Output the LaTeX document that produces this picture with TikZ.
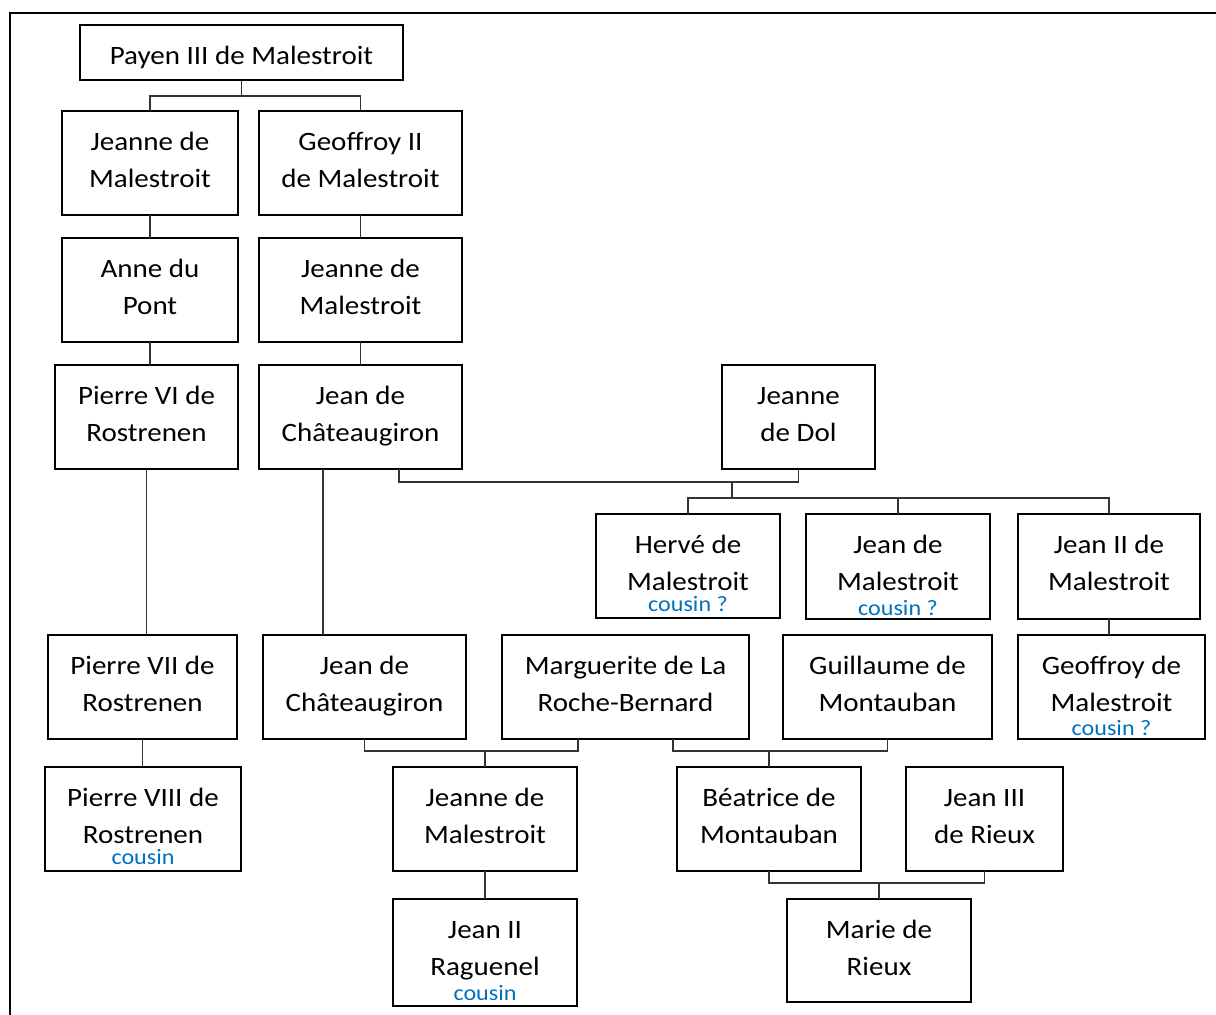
\documentclass[tikz,border=0pt]{standalone}
\usepackage{fontspec}
\setmainfont{Carlito}[FakeStretch=1.095]
\usepackage{xcolor}
\definecolor{cblue}{HTML}{0070C0}
\newcommand{\bt}[4]{\parbox[c][#2][t]{#1}{\centering\rule{0pt}{39pt}#3\par\vfill#4}}
\newcommand{\cz}[2]{{\fontsize{22}{1}\selectfont\color{cblue}\smash{#2}\par}\vspace*{#1}}
\begin{document}
\begin{tikzpicture}[x=1pt,y=-1pt,
  pbox/.style={draw=black,line width=2.2pt,inner sep=0pt,outer sep=0pt,
    font=\fontsize{26.5}{37}\selectfont},
  conn/.style={draw=black!80,line width=1.3pt}]
\useasboundingbox (0,0) rectangle (1216,1015);
\fill[white] (0,0) rectangle (1216,1015);
\draw[line width=2pt] (10,1030) -- (10,13) -- (1230,13);
% boxes
\node[pbox] (payen) at (241.5,52.5) {\bt{323pt}{55pt}{Payen III de Malestroit}{}};
\node[pbox] (jm1) at (150,163) {\bt{176pt}{104pt}{Jeanne de\\Malestroit}{}};
\node[pbox] (geo2) at (360.5,163) {\bt{203pt}{104pt}{Geoffroy II\\de Malestroit}{}};
\node[pbox] (anne) at (150,290) {\bt{176pt}{104pt}{Anne du\\Pont}{}};
\node[pbox] (jm2) at (360.5,290) {\bt{203pt}{104pt}{Jeanne de\\Malestroit}{}};
\node[pbox] (p6) at (146.5,417) {\bt{183pt}{104pt}{Pierre VI de\\Rostrenen}{}};
\node[pbox] (jc1) at (360.5,417) {\bt{203pt}{104pt}{Jean de\\Châteaugiron}{}};
\node[pbox] (dol) at (798.5,417) {\bt{153pt}{104pt}{Jeanne\\de Dol}{}};
\node[pbox] (herve) at (688,566) {\bt{184pt}{104pt}{Hervé de\\Malestroit}{\cz{7pt}{cousin ?}}};
\node[pbox] (jeanm) at (898,566.5) {\bt{184pt}{105pt}{Jean de\\Malestroit}{\cz{4pt}{cousin ?}}};
\node[pbox] (jean2m) at (1109,566.5) {\bt{182pt}{105pt}{Jean II de\\Malestroit}{}};
\node[pbox] (p7) at (142.5,687) {\bt{189pt}{104pt}{Pierre VII de\\Rostrenen}{}};
\node[pbox] (jc2) at (364.5,687) {\bt{203pt}{104pt}{Jean de\\Châteaugiron}{}};
\node[pbox] (marg) at (625.5,687) {\bt{247pt}{104pt}{Marguerite de La\\Roche-Bernard}{}};
\node[pbox] (guil) at (887.5,687) {\bt{209pt}{104pt}{Guillaume de\\Montauban}{}};
\node[pbox] (geoff) at (1111.5,687) {\bt{187pt}{104pt}{Geoffroy de\\Malestroit}{\cz{4pt}{cousin ?}}};
\node[pbox] (p8) at (143,819) {\bt{196pt}{104pt}{Pierre VIII de\\Rostrenen}{\cz{6.5pt}{cousin}}};
\node[pbox] (jm3) at (485,819) {\bt{184pt}{104pt}{Jeanne de\\Malestroit}{}};
\node[pbox] (bea) at (769,819) {\bt{184pt}{104pt}{Béatrice de\\Montauban}{}};
\node[pbox] (j3r) at (984.5,819) {\bt{157pt}{104pt}{Jean III\\de Rieux}{}};
\node[pbox] (ragu) at (485,952.5) {\bt{184pt}{107pt}{Jean II\\Raguenel}{\cz{5.5pt}{cousin}}};
\node[pbox] (marie) at (879,950.5) {\bt{184pt}{103pt}{Marie de\\Rieux}{}};
% connectors
\coordinate (k1) at (241.5,96);
\draw[conn] (payen.south) -- (k1);
\draw[conn] (jm1.north) |- (k1) -| (geo2.north);
\draw[conn] (jm1.south) -- (anne.north);
\draw[conn] (geo2.south) -- (jm2.north);
\draw[conn] (anne.south) -- (anne.south |- p6.north);
\draw[conn] (jm2.south) -- (jc1.north);
\draw[conn] (p6.south) -- (p6.south |- p7.north);
\coordinate (jc1a) at ([xshift=-37.5pt]jc1.south);
\draw[conn] (jc1a) -- (jc1a |- jc2.north);
\coordinate (jc1b) at ([xshift=38.5pt]jc1.south);
\coordinate (k3) at (732,482);
\draw[conn] (jc1b) |- (k3) -| (dol.south);
\coordinate (k4) at (732,498);
\draw[conn] (k3) -- (k4);
\draw[conn] (herve.north) |- (k4) -| (jean2m.north);
\draw[conn] (jeanm.north) -- (jeanm.north |- k4);
\draw[conn] (jean2m.south) -- (jean2m.south |- geoff.north);
\draw[conn] (p7.south) -- (p7.south |- p8.north);
\coordinate (marga) at ([xshift=-47.5pt]marg.south);
\coordinate (k5) at (485,751);
\draw[conn] (jc2.south) |- (k5) -| (marga);
\draw[conn] (k5) -- (jm3.north);
\coordinate (margb) at ([xshift=47.5pt]marg.south);
\coordinate (k6) at (769,751);
\draw[conn] (margb) |- (k6) -| (guil.south);
\draw[conn] (k6) -- (bea.north);
\draw[conn] (jm3.south) -- (ragu.north);
\coordinate (k7) at (879,883);
\draw[conn] (bea.south) |- (k7) -| (j3r.south);
\draw[conn] (k7) -- (marie.north);
\end{tikzpicture}
\end{document}
